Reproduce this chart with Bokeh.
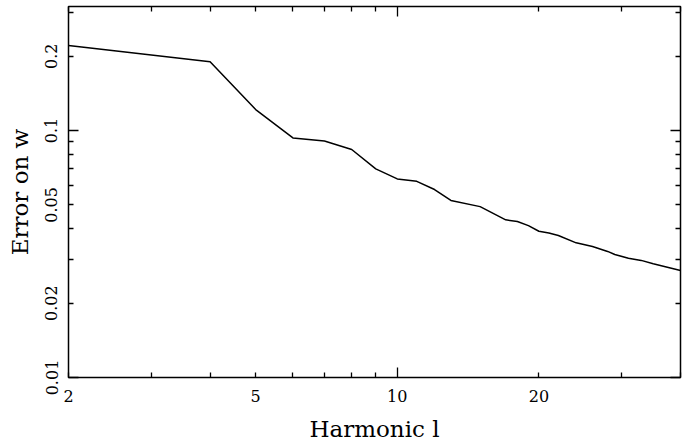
from bokeh.plotting import figure
from bokeh.models import LogAxis, FixedTicker, Range1d
from bokeh.embed import file_html
from bokeh.resources import INLINE

# ---- data ----
harmonic = [2, 4, 5, 6, 7, 8, 9, 10, 11, 12, 13, 15, 17, 18, 19, 20, 21, 22,
            24, 26, 28, 29, 31, 33, 35, 40]
error_w = [0.221, 0.190, 0.1216, 0.0934, 0.0908, 0.0838, 0.0700, 0.0637,
           0.0623, 0.0577, 0.0521, 0.0492, 0.0435, 0.0428, 0.0412, 0.0391,
           0.0385, 0.0376, 0.0351, 0.0339, 0.0324, 0.0315, 0.0304, 0.0298,
           0.0289, 0.0271]

x_label_ticks = [2, 5, 10, 20]
x_label_text = ["2", "5", "10", "20"]
x_decade_ticks = [10]
x_minor_ticks = [2, 3, 4, 5, 6, 7, 8, 9, 20, 30, 40]

y_label_ticks = [0.01, 0.02, 0.05, 0.1, 0.2]
y_label_text = ["0.01", "0.02", "0.05", "0.1", "0.2"]
y_decade_ticks = [0.01, 0.1]
y_minor_ticks = [0.02, 0.03, 0.04, 0.05, 0.06, 0.07, 0.08, 0.09, 0.2, 0.3]

x_title = "Harmonic l"
y_title = "Error on w"

TICK_FONT = "DejaVu Serif"
TITLE_FONT = "DejaVu Serif"
TICK_FS = "16px"
TITLE_FS = "23px"

p = figure(width=692, height=444, x_axis_type="log", y_axis_type="log",
           x_range=Range1d(2, 40), y_range=Range1d(0.01, 0.318),
           x_axis_location=None, y_axis_location=None,
           output_backend="svg", toolbar_location=None,
           min_border_left=68, min_border_right=12,
           min_border_top=6, min_border_bottom=67)
p.grid.visible = False
p.outline_line_color = "black"
p.outline_line_width = 1.5
p.background_fill_color = "white"
p.border_fill_color = "white"

p.line(harmonic, error_w, line_color="black", line_width=1.5)


def tick_axis(decades, minors):
    return LogAxis(ticker=FixedTicker(ticks=decades, minor_ticks=minors),
                   major_tick_in=10, major_tick_out=0,
                   minor_tick_in=5, minor_tick_out=0,
                   major_tick_line_width=1.3, minor_tick_line_width=1.3,
                   major_tick_line_color="black", minor_tick_line_color="black",
                   axis_line_color=None,
                   major_label_overrides={t: "" for t in decades},
                   major_label_text_font_size="1px",
                   major_label_standoff=0)


def label_axis(ticks, texts, title, vertical=False, standoff=8, title_standoff=10):
    ax = LogAxis(ticker=FixedTicker(ticks=ticks, minor_ticks=[]),
                 major_tick_in=0, major_tick_out=0,
                 major_tick_line_color=None, minor_tick_line_color=None,
                 axis_line_color=None,
                 major_label_overrides=dict(zip(ticks, texts)),
                 major_label_standoff=standoff,
                 major_label_text_font=TICK_FONT, major_label_text_font_size=TICK_FS,
                 major_label_text_color="black",
                 axis_label=title, axis_label_text_font=TITLE_FONT,
                 axis_label_text_font_size=TITLE_FS,
                 axis_label_text_font_style="normal",
                 axis_label_text_color="black",
                 axis_label_standoff=title_standoff)
    if vertical:
        ax.major_label_orientation = "vertical"
    return ax


# bottom: ticks then labels
p.add_layout(tick_axis(x_decade_ticks, x_minor_ticks), "below")
p.add_layout(label_axis(x_label_ticks, x_label_text, x_title, standoff=12, title_standoff=11), "below")
# left
p.add_layout(tick_axis(y_decade_ticks, y_minor_ticks), "left")
p.add_layout(label_axis(y_label_ticks, y_label_text, y_title, vertical=True, standoff=11, title_standoff=10), "left")
# top and right: ticks only
p.add_layout(tick_axis(x_decade_ticks, x_minor_ticks), "above")
p.add_layout(tick_axis(y_decade_ticks, y_minor_ticks), "right")

open("out.html", "w").write(file_html(p, INLINE))
